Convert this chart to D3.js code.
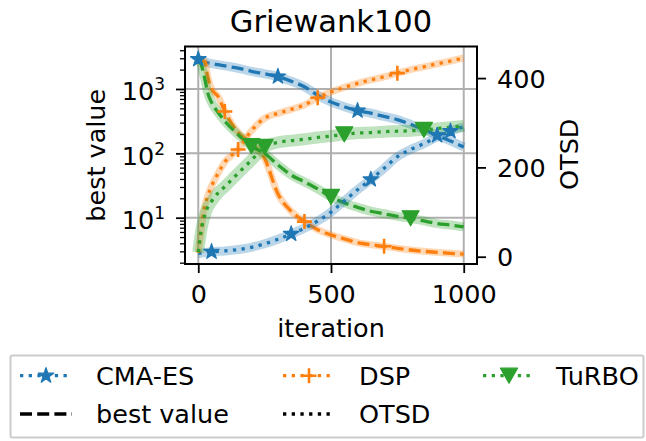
<!DOCTYPE html>
<html>
<head>
<meta charset="utf-8">
<script src="https://cdn.jsdelivr.net/npm/d3@7"></script>
<style>
  body { margin: 0; background: #fff; }
  svg text { font-family: "DejaVu Sans", sans-serif; fill: #000; }
</style>
</head>
<body>
<svg id="chart" width="646" height="441"></svg>
<script>
// Iterations at which each run was sampled
const iterations = [0, 10, 25, 35, 50, 75, 100, 150, 200, 250, 300, 350, 400, 450, 500,
                    550, 600, 650, 700, 750, 800, 850, 900, 950, 1000];

// Best objective value found so far (log axis, left)
const cmaBest   = [2900, 2800, 2650, 2560, 2480, 2380, 2280, 2100, 1880, 1720, 1560, 1320, 1080, 800, 630,
                   530, 460, 420, 375, 335, 282, 235, 190, 156, 125];
const dspBest   = [2850, 2780, 2650, 1600, 1000, 760, 447, 211, 141, 83, 23.5, 12.6, 8.7, 6.5, 5.4,
                   4.7, 4.1, 3.8, 3.6, 3.35, 3.15, 3.0, 2.9, 2.8, 2.72];
const turboBest = [2850, 2450, 1410, 890, 620, 430, 316, 195, 129, 100, 66, 46, 36, 28, 21,
                   17, 14.5, 12.6, 11.5, 10.5, 9.8, 8.9, 8.1, 7.7, 7.2];

// Optimal transport sample distance (linear axis, right)
const cmaOtsd   = [8, 8, 9, 10, 11, 12, 13, 16, 21, 29, 39, 51, 64, 80, 100,
                   125, 150, 173, 198, 224, 240, 253, 268, 281, 291];
const dspOtsd   = [9, 56, 115, 135, 158, 187, 212, 240, 282, 310, 321, 330, 340, 356, 369,
                   379, 388, 396, 403, 411, 419, 425, 432, 438, 445];
const turboOtsd = [10, 55, 94, 110, 124, 143, 157, 187, 216, 246, 256, 260, 263, 267, 270,
                   274, 277, 278, 280, 281, 282, 284, 287, 290, 293];

// Iterations carrying a marker on each curve
const cmaBestMarks = [0, 300, 600, 900],  cmaOtsdMarks = [50, 350, 650, 950];
const dspBestMarks = [100, 400, 700],     dspOtsdMarks = [150, 450, 750];
const turboBestMarks = [200, 500, 800],   turboOtsdMarks = [250, 550, 850];

const methods = ["CMA-ES", "DSP", "TuRBO"];
const colors = ["#1f77b4", "#ff7f0e", "#2ca02c"];
const markerKinds = ["star", "plus", "tri"];

const xTicks = [0, 500, 1000];
const yLeftTicks = [10, 100, 1000];
const yRightTicks = [0, 200, 400];

const title = "Griewank100";
const xLabel = "iteration";
const yLeftLabel = "best value";
const yRightLabel = "OTSD";

// ---------------------------------------------------------------------------
const svg = d3.select("#chart");
const plot = { left: 185, right: 477, top: 46.5, bottom: 264 };
const FS = 25.5;

const x = d3.scaleLinear().domain([-50, 1050]).range([plot.left, plot.right]);
const yL = d3.scaleLog().domain([1.908, 4571]).range([plot.bottom, plot.top]);
const yR = d3.scaleLinear().domain([-16.3, 470.7]).range([plot.bottom, plot.top]);

const clipId = "plotclip";
svg.append("defs").append("clipPath").attr("id", clipId)
  .append("rect").attr("x", plot.left).attr("y", plot.top)
  .attr("width", plot.right - plot.left).attr("height", plot.bottom - plot.top);

// grid
const grid = svg.append("g").attr("stroke", "#b0b0b0").attr("stroke-width", 2);
grid.selectAll("line.vx").data(xTicks).join("line")
  .attr("x1", d => x(d)).attr("x2", d => x(d)).attr("y1", plot.top).attr("y2", plot.bottom);
grid.selectAll("line.hy").data(yLeftTicks).join("line")
  .attr("y1", d => yL(d)).attr("y2", d => yL(d)).attr("x1", plot.left).attr("x2", plot.right);

const series = [
  { vals: cmaBest,   marks: cmaBestMarks,   c: 0, scale: yL, dash: "12,5.2", band: 9 },
  { vals: dspBest,   marks: dspBestMarks,   c: 1, scale: yL, dash: "12,5.2", band: 7 },
  { vals: turboBest, marks: turboBestMarks, c: 2, scale: yL, dash: "12,5.2", band: 9 },
  { vals: cmaOtsd,   marks: cmaOtsdMarks,   c: 0, scale: yR, dash: "3.3,5.4", band: 9 },
  { vals: dspOtsd,   marks: dspOtsdMarks,   c: 1, scale: yR, dash: "3.3,5.4", band: 7 },
  { vals: turboOtsd, marks: turboOtsdMarks, c: 2, scale: yR, dash: "3.3,5.4", band: 12 }
];

function markerPath(kind) {
  if (kind === "star") return d3.symbol(d3.symbolStar, 74)();
  if (kind === "tri") return "M-8.5,-7.5L8.5,-7.5L0,7.5Z";
  return "M-7.5,0H7.5M0,-7.5V7.5";
}
function drawMarker(g, kind, color, px, py) {
  const p = g.append("path").attr("d", markerPath(kind))
    .attr("transform", `translate(${px},${py})`);
  if (kind === "plus") p.attr("fill", "none").attr("stroke", color).attr("stroke-width", 2.6);
  else p.attr("fill", color).attr("stroke", color).attr("stroke-width", 1.2).attr("stroke-linejoin", "round");
}

const plotG = svg.append("g").attr("clip-path", `url(#${clipId})`);
series.forEach(s => {
  const color = colors[s.c];
  const line = d3.line().x((d, i) => x(iterations[i])).y(d => s.scale(d)).curve(d3.curveMonotoneX);
  plotG.append("path").attr("d", line(s.vals)).attr("fill", "none")
    .attr("stroke", color).attr("stroke-opacity", 0.3).attr("stroke-width", s.band)
    .attr("stroke-linejoin", "round").attr("stroke-linecap", "butt");
  plotG.append("path").attr("d", line(s.vals)).attr("fill", "none")
    .attr("stroke", color).attr("stroke-width", 3.3).attr("stroke-dasharray", s.dash);
  const mg = svg.append("g");
  s.marks.forEach(m => {
    const i = iterations.indexOf(m);
    drawMarker(mg, markerKinds[s.c], color, x(m), s.scale(s.vals[i]));
  });
});

// frame
svg.append("rect").attr("x", plot.left).attr("y", plot.top)
  .attr("width", plot.right - plot.left).attr("height", plot.bottom - plot.top)
  .attr("fill", "none").attr("stroke", "#000").attr("stroke-width", 2);

// axes
function styleAxis(g) {
  g.select(".domain").remove();
  g.selectAll(".tick line").attr("stroke", "#000").attr("stroke-width", 1.8);
  g.selectAll(".tick text").attr("font-size", FS).attr("font-family", "DejaVu Sans").attr("fill", "#000");
}
svg.append("g").attr("transform", `translate(0,${plot.bottom})`)
  .call(d3.axisBottom(x).tickValues(xTicks).tickSize(9).tickPadding(12).tickFormat(d3.format("d")))
  .call(styleAxis);

const minorTicks = [];
for (let e = 0; e <= 3; e++) for (let k = 2; k <= 9; k++) {
  const v = k * Math.pow(10, e);
  if (v > yL.domain()[0] && v < yL.domain()[1]) minorTicks.push(v);
}
svg.append("g").attr("transform", `translate(${plot.left},0)`)
  .call(d3.axisLeft(yL).tickValues(minorTicks).tickSize(5).tickFormat(""))
  .call(g => { g.select(".domain").remove(); g.selectAll(".tick line").attr("stroke", "#000").attr("stroke-width", 1.3); });

const leftAxis = svg.append("g").attr("transform", `translate(${plot.left},0)`)
  .call(d3.axisLeft(yL).tickValues(yLeftTicks).tickSize(9).tickPadding(11).tickFormat(""))
  .call(styleAxis);
leftAxis.selectAll(".tick text").attr("dy", "0.43em").each(function (d) {
  const t = d3.select(this);
  t.text(null);
  t.append("tspan").text("10");
  t.append("tspan").attr("font-size", 17).attr("dy", -10).text(String(Math.round(Math.log10(d))));
});

svg.append("g").attr("transform", `translate(${plot.right},0)`)
  .call(d3.axisRight(yR).tickValues(yRightTicks).tickSize(9).tickPadding(11).tickFormat(d3.format("d")))
  .call(styleAxis)
  .call(g => g.selectAll(".tick text").attr("dy", "0.36em"));

// labels
const cx = (plot.left + plot.right) / 2;
svg.append("text").attr("x", cx).attr("y", 32).attr("text-anchor", "middle")
  .attr("font-size", 30.5).text(title);
svg.append("text").attr("x", cx).attr("y", 337).attr("text-anchor", "middle")
  .attr("font-size", FS).text(xLabel);
svg.append("text").attr("transform", `translate(105,${(plot.top + plot.bottom) / 2}) rotate(-90)`)
  .attr("text-anchor", "middle").attr("font-size", FS).text(yLeftLabel);
svg.append("text").attr("transform", `translate(577.5,${(plot.top + plot.bottom) / 2 - 1}) rotate(-90)`)
  .attr("text-anchor", "middle").attr("font-size", FS).text(yRightLabel);

// legend
const lg = svg.append("g");
lg.append("rect").attr("x", 10.5).attr("y", 355.5).attr("width", 633).attr("height", 82)
  .attr("rx", 2).attr("fill", "#fff").attr("stroke", "#cccccc").attr("stroke-width", 2);
const cols = [{ h: 20, t: 96 }, { h: 283, t: 359 }, { h: 483, t: 556 }];
const rows = [375.7, 414];
const handleLen = 52;
methods.forEach((name, i) => {
  const c = cols[i], y0 = rows[0];
  lg.append("line").attr("x1", c.h).attr("x2", c.h + handleLen).attr("y1", y0).attr("y2", y0)
    .attr("stroke", colors[i]).attr("stroke-width", 3.3).attr("stroke-dasharray", "3.3,5.4");
  drawMarker(lg, markerKinds[i], colors[i], c.h + handleLen / 2, y0);
  lg.append("text").attr("x", c.t).attr("y", y0 + 9).attr("font-size", FS).text(name);
});
const styleEntries = [{ name: yLeftLabel, dash: "12,5.2" }, { name: yRightLabel, dash: "3.3,5.4" }];
styleEntries.forEach((e, i) => {
  const c = cols[i], y0 = rows[1];
  lg.append("line").attr("x1", c.h).attr("x2", c.h + handleLen).attr("y1", y0).attr("y2", y0)
    .attr("stroke", "#000").attr("stroke-width", 3.3).attr("stroke-dasharray", e.dash);
  lg.append("text").attr("x", c.t).attr("y", y0 + 9).attr("font-size", FS).text(e.name);
});
</script>
</body>
</html>
